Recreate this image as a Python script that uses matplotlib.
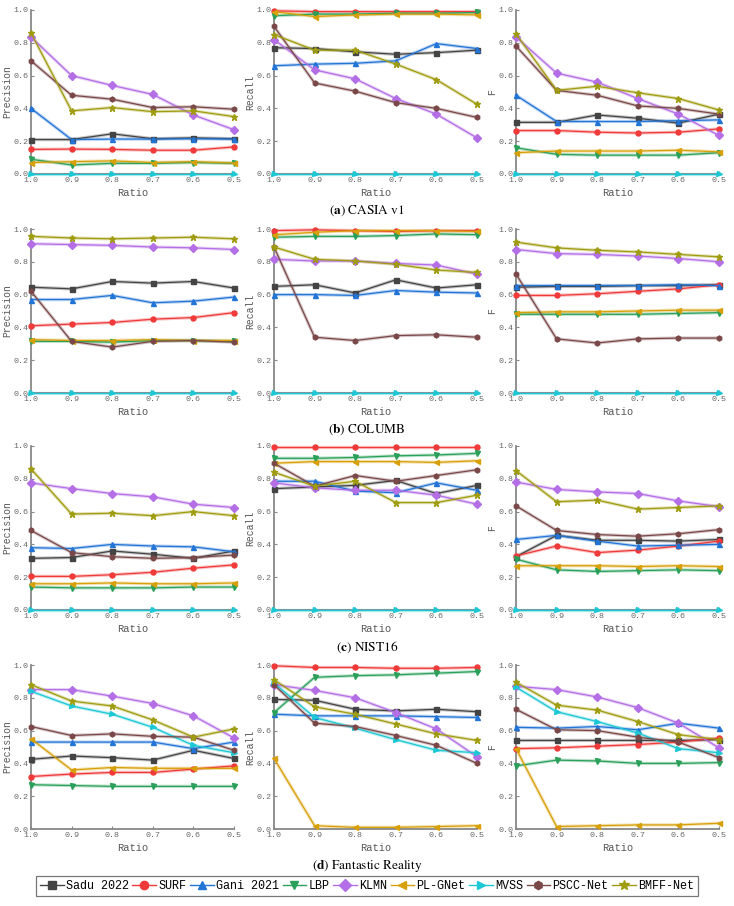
import matplotlib
matplotlib.use('Agg')
import matplotlib.pyplot as plt
from matplotlib.lines import Line2D

ratio = [1.0, 0.9, 0.8, 0.7, 0.6, 0.5]
methods = ['Sadu 2022', 'SURF', 'Gani 2021', 'LBP', 'KLMN', 'PL-GNet', 'MVSS', 'PSCC-Net', 'BMFF-Net']
colors = ['#444444', '#f03a3a', '#2274d6', '#2aa05a', '#b46ee6', '#d8a008', '#1cc8d4', '#7a4848', '#a09c10']
markers = ['s', 'o', '^', 'v', 'D', '<', '>', 'h', '*']
datasets = ['CASIA v1', 'COLUMB', 'NIST16', 'Fantastic Reality']
letters = ['a', 'b', 'c', 'd']
metrics = ['Precision', 'Recall', 'F']

# (a) CASIA v1
casia_p = [
    [0.21, 0.21, 0.245, 0.215, 0.22, 0.215],
    [0.15, 0.152, 0.15, 0.145, 0.145, 0.165],
    [0.40, 0.21, 0.213, 0.213, 0.215, 0.213],
    [0.09, 0.055, 0.065, 0.065, 0.07, 0.065],
    [0.835, 0.60, 0.54, 0.485, 0.36, 0.27],
    [0.07, 0.075, 0.08, 0.07, 0.075, 0.067],
    [0, 0, 0, 0, 0, 0],
    [0.69, 0.48, 0.456, 0.405, 0.41, 0.395],
    [0.86, 0.385, 0.405, 0.38, 0.385, 0.35],
]
casia_r = [
    [0.77, 0.765, 0.745, 0.73, 0.74, 0.755],
    [0.995, 0.99, 0.99, 0.99, 0.99, 0.99],
    [0.66, 0.67, 0.675, 0.69, 0.795, 0.765],
    [0.965, 0.975, 0.975, 0.98, 0.98, 0.985],
    [0.82, 0.635, 0.58, 0.46, 0.365, 0.22],
    [0.99, 0.96, 0.97, 0.975, 0.975, 0.97],
    [0, 0, 0, 0, 0, 0],
    [0.90, 0.555, 0.505, 0.435, 0.40, 0.345],
    [0.85, 0.755, 0.755, 0.67, 0.575, 0.425],
]
casia_f = [
    [0.315, 0.315, 0.36, 0.34, 0.31, 0.365],
    [0.265, 0.265, 0.255, 0.25, 0.255, 0.275],
    [0.48, 0.32, 0.32, 0.32, 0.325, 0.33],
    [0.16, 0.12, 0.115, 0.115, 0.115, 0.13],
    [0.835, 0.615, 0.56, 0.46, 0.365, 0.235],
    [0.13, 0.14, 0.14, 0.14, 0.145, 0.135],
    [0, 0, 0, 0, 0, 0],
    [0.78, 0.51, 0.48, 0.415, 0.40, 0.365],
    [0.855, 0.51, 0.535, 0.495, 0.46, 0.39],
]

# (b) COLUMB
columb_p = [
    [0.645, 0.635, 0.68, 0.67, 0.68, 0.64],
    [0.41, 0.42, 0.43, 0.45, 0.46, 0.49],
    [0.57, 0.57, 0.595, 0.55, 0.56, 0.585],
    [0.315, 0.315, 0.31, 0.32, 0.32, 0.315],
    [0.91, 0.905, 0.90, 0.89, 0.885, 0.875],
    [0.325, 0.32, 0.32, 0.325, 0.32, 0.32],
    [0, 0, 0, 0, 0, 0],
    [0.62, 0.315, 0.28, 0.315, 0.32, 0.31],
    [0.955, 0.945, 0.94, 0.945, 0.95, 0.94],
]
columb_r = [
    [0.65, 0.66, 0.61, 0.69, 0.64, 0.66],
    [0.99, 0.995, 0.99, 0.985, 0.99, 0.99],
    [0.60, 0.60, 0.595, 0.625, 0.615, 0.61],
    [0.95, 0.955, 0.955, 0.96, 0.97, 0.965],
    [0.815, 0.805, 0.805, 0.79, 0.78, 0.725],
    [0.965, 0.98, 0.99, 0.99, 0.99, 0.985],
    [0, 0, 0, 0, 0, 0],
    [0.89, 0.34, 0.32, 0.35, 0.355, 0.34],
    [0.89, 0.815, 0.805, 0.785, 0.75, 0.735],
]
columb_f = [
    [0.645, 0.65, 0.65, 0.655, 0.655, 0.66],
    [0.595, 0.595, 0.605, 0.62, 0.635, 0.66],
    [0.655, 0.655, 0.655, 0.655, 0.66, 0.655],
    [0.48, 0.48, 0.48, 0.48, 0.485, 0.49],
    [0.875, 0.85, 0.845, 0.835, 0.82, 0.80],
    [0.49, 0.495, 0.495, 0.50, 0.505, 0.505],
    [0, 0, 0, 0, 0, 0],
    [0.725, 0.33, 0.305, 0.33, 0.335, 0.335],
    [0.92, 0.885, 0.87, 0.86, 0.845, 0.83],
]

# (c) NIST16
nist_p = [
    [0.315, 0.32, 0.36, 0.34, 0.315, 0.36],
    [0.205, 0.205, 0.215, 0.23, 0.255, 0.275],
    [0.38, 0.375, 0.40, 0.39, 0.385, 0.355],
    [0.14, 0.135, 0.135, 0.135, 0.14, 0.14],
    [0.775, 0.74, 0.71, 0.69, 0.645, 0.625],
    [0.16, 0.16, 0.165, 0.16, 0.16, 0.165],
    [0, 0, 0, 0, 0, 0],
    [0.485, 0.35, 0.325, 0.315, 0.32, 0.335],
    [0.86, 0.585, 0.59, 0.575, 0.60, 0.575],
]
nist_r = [
    [0.74, 0.75, 0.76, 0.79, 0.71, 0.76],
    [0.995, 0.995, 0.995, 0.995, 0.995, 0.995],
    [0.785, 0.785, 0.725, 0.715, 0.775, 0.73],
    [0.925, 0.925, 0.93, 0.94, 0.945, 0.955],
    [0.775, 0.745, 0.73, 0.73, 0.70, 0.645],
    [0.895, 0.905, 0.905, 0.905, 0.90, 0.91],
    [0, 0, 0, 0, 0, 0],
    [0.895, 0.755, 0.82, 0.785, 0.82, 0.855],
    [0.84, 0.755, 0.785, 0.655, 0.655, 0.70],
]
nist_f = [
    [0.325, 0.455, 0.425, 0.425, 0.42, 0.43],
    [0.33, 0.39, 0.35, 0.365, 0.39, 0.42],
    [0.43, 0.455, 0.42, 0.39, 0.395, 0.40],
    [0.31, 0.245, 0.235, 0.24, 0.245, 0.24],
    [0.78, 0.735, 0.72, 0.71, 0.665, 0.63],
    [0.27, 0.27, 0.27, 0.265, 0.27, 0.265],
    [0, 0, 0, 0, 0, 0],
    [0.635, 0.485, 0.46, 0.45, 0.465, 0.49],
    [0.85, 0.66, 0.67, 0.615, 0.625, 0.635],
]

# (d) Fantastic Reality
fr_p = [
    [0.425, 0.445, 0.435, 0.42, 0.48, 0.43],
    [0.32, 0.335, 0.345, 0.345, 0.365, 0.385],
    [0.53, 0.53, 0.53, 0.53, 0.49, 0.53],
    [0.27, 0.265, 0.26, 0.26, 0.26, 0.26],
    [0.85, 0.85, 0.81, 0.765, 0.69, 0.555],
    [0.55, 0.36, 0.375, 0.37, 0.37, 0.37],
    [0.84, 0.75, 0.70, 0.62, 0.51, 0.465],
    [0.625, 0.57, 0.58, 0.565, 0.56, 0.48],
    [0.88, 0.78, 0.75, 0.665, 0.56, 0.61],
]
fr_r = [
    [0.79, 0.785, 0.73, 0.72, 0.73, 0.715],
    [0.995, 0.985, 0.985, 0.98, 0.98, 0.985],
    [0.70, 0.69, 0.69, 0.69, 0.685, 0.68],
    [0.71, 0.925, 0.935, 0.94, 0.95, 0.96],
    [0.88, 0.845, 0.80, 0.71, 0.61, 0.44],
    [0.43, 0.02, 0.01, 0.01, 0.015, 0.02],
    [0.89, 0.68, 0.615, 0.545, 0.48, 0.465],
    [0.88, 0.645, 0.625, 0.57, 0.51, 0.40],
    [0.91, 0.745, 0.70, 0.64, 0.58, 0.54],
]
fr_f = [
    [0.54, 0.54, 0.54, 0.54, 0.54, 0.545],
    [0.49, 0.495, 0.505, 0.515, 0.53, 0.555],
    [0.62, 0.615, 0.625, 0.605, 0.645, 0.615],
    [0.385, 0.42, 0.415, 0.40, 0.40, 0.405],
    [0.87, 0.85, 0.805, 0.74, 0.645, 0.495],
    [0.49, 0.015, 0.02, 0.025, 0.025, 0.035],
    [0.865, 0.715, 0.655, 0.585, 0.49, 0.465],
    [0.73, 0.605, 0.60, 0.56, 0.53, 0.435],
    [0.895, 0.755, 0.725, 0.655, 0.575, 0.545],
]

table = [
    [casia_p, casia_r, casia_f],
    [columb_p, columb_r, columb_f],
    [nist_p, nist_r, nist_f],
    [fr_p, fr_r, fr_f],
]

mono = 'Liberation Mono'
plt.rcParams['mathtext.fontset'] = 'stix'

W, H = 734, 906
fig = plt.figure(figsize=(W / 100, H / 100), dpi=100)

col_left = [31, 274, 516]
row_bottom = [174, 393, 610, 829]
aw, ah = 203, 164

for r in range(4):
    for c in range(3):
        ax = fig.add_axes([col_left[c] / W, 1 - row_bottom[r] / H, aw / W, ah / H])
        for k in range(len(methods)):
            ax.plot(ratio, table[r][c][k], color=colors[k], lw=2.4, alpha=0.3,
                    solid_capstyle='round', clip_on=False, zorder=2)
            ax.plot(ratio, table[r][c][k], color=colors[k], lw=0.9,
                    marker=markers[k], ms=4.5 if markers[k] == '*' else 3.6,
                    clip_on=False, zorder=3)
        ax.set_xlim(1.0, 0.5)
        ax.set_ylim(0, 1.0)
        ax.set_xticks(ratio)
        ax.set_xticklabels(['%.1f' % v for v in ratio])
        ax.set_yticks([0, 0.2, 0.4, 0.6, 0.8, 1.0])
        ax.set_yticklabels(['%.1f' % v for v in [0, 0.2, 0.4, 0.6, 0.8, 1.0]])
        for s in ['top', 'right']:
            ax.spines[s].set_visible(False)
        for s in ['left', 'bottom']:
            ax.spines[s].set_color('#888888')
            ax.spines[s].set_linewidth(1.3)
        ax.tick_params(direction='in', length=2.5, width=0.8, color='#888888',
                       labelsize=6, labelcolor='#666666', pad=2)
        for lab in ax.get_xticklabels() + ax.get_yticklabels():
            lab.set_family(mono)
        ax.set_xlabel('Ratio', fontsize=7.5, family=mono, color='#555555', labelpad=3)
        ax.set_ylabel(metrics[c], fontsize=7, family=mono, color='#555555', labelpad=1)
    fig.text(0.5, 1 - (row_bottom[r] + 37) / H,
             r'($\mathbf{%s}$) %s' % (letters[r], datasets[r]),
             ha='center', va='center', fontsize=9.5, family='STIXGeneral')

handles = [Line2D([], [], color=colors[k], lw=1.0, marker=markers[k],
                  ms=7 if markers[k] == '*' else 6) for k in range(len(methods))]
leg = fig.legend(handles, methods, loc='center', ncol=9,
                 bbox_to_anchor=(0.5, 1 - 886 / H), frameon=True, fancybox=False,
                 prop={'family': mono, 'size': 8.5}, handlelength=2.0,
                 handletextpad=0.2, columnspacing=0.3, borderpad=0.35,
                 edgecolor='#555555')
leg.get_frame().set_linewidth(0.9)

fig.savefig('out.png', dpi=100)
